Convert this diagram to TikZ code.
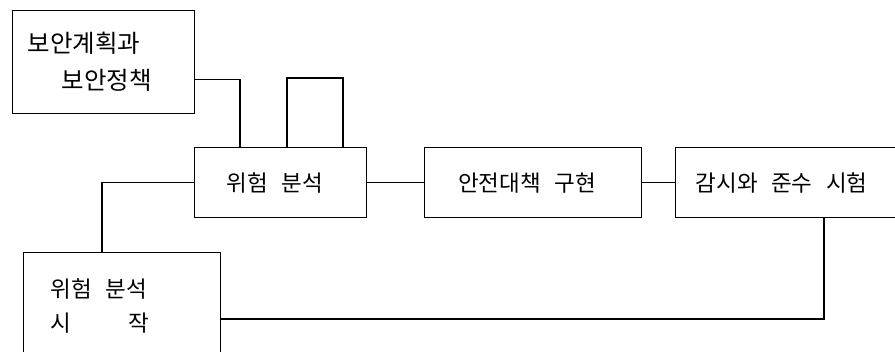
\documentclass[tikz,border=0pt]{standalone}
\usepackage{fontspec}
\newfontfamily\kr{Noto Sans CJK KR}
\usetikzlibrary{calc}
\newcommand{\gap}{\hspace{0.6em}}
\begin{document}
\begin{tikzpicture}[x=1pt,y=-1pt,
  box/.style={draw, line width=1.2pt, rectangle, anchor=north west, inner sep=0pt,
    font=\kr\fontsize{22.5}{37}\selectfont},
  wire/.style={draw, line width=1.2pt}]
\useasboundingbox (0,0) rectangle (895,352);
\clip (0,0) rectangle (895,352);
% boxes
\node[box, minimum width=182pt, minimum height=103pt, text width=152pt, align=left,
  inner xsep=15pt, font=\kr\fontsize{24.5}{37}\selectfont] (plan) at (12,10)
  {보안계획과\\\hspace{34pt}보안정책};
\node[box, minimum width=172pt, minimum height=70pt] (risk) at (194,147)
  {\hspace{-12pt}위험\gap 분석};
\node[box, minimum width=217pt, minimum height=70pt] (impl) at (424,147)
  {\hspace{-12pt}안전대책\gap 구현};
\node[box, minimum width=240pt, minimum height=70pt, text width=200pt, align=left,
  inner xsep=20pt] (mon) at (675,147)
  {감시와\gap 준수\gap 시험};
\node[box, minimum width=171pt, minimum height=106pt, text width=143pt, align=left,
  inner xsep=27pt, font=\kr\fontsize{22.5}{34}\selectfont] (start) at (23,252)
  {위험\gap 분석\\시\hspace{57pt}작};
% connectors
\draw[wire] ($(plan.east)+(0,17.5)$) -| ($(risk.north west)+(46,0)$);
\draw[wire] ($(risk.north west)+(93,0)$) -- ++(0,-69) -| ($(risk.north west)+(149,0)$);
\draw[wire] (risk.east) -- (impl.west);
\draw[wire] (impl.east) -- (mon.west);
\draw[wire] ($(start.north west)+(79,0)$) |- (risk.west);
\coordinate (fb) at ($(start.north east)+(0,67)$);
\draw[wire] ($(mon.south west)+(149,0)$) |- (fb);
\end{tikzpicture}
\end{document}
